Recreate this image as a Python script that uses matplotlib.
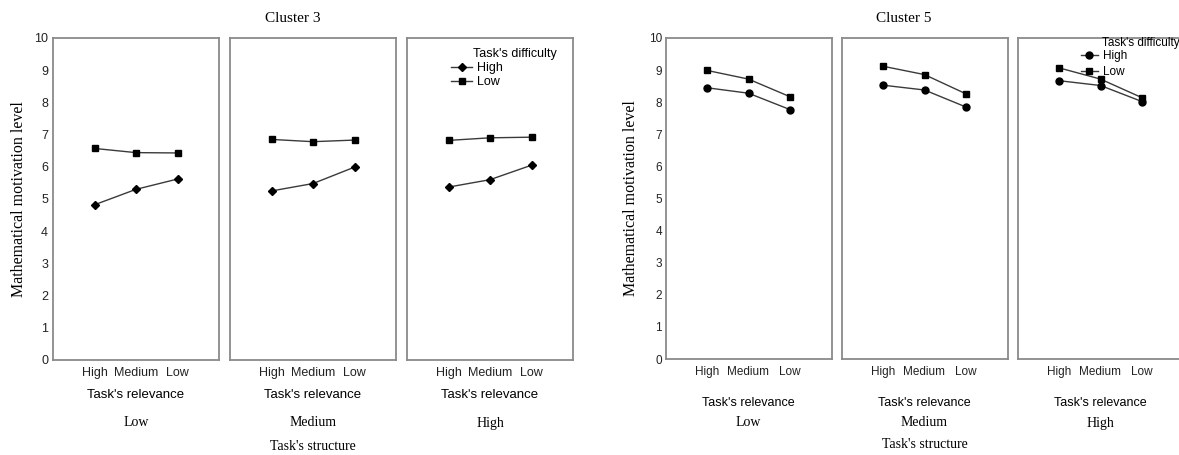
#!/usr/bin/env python3
"""
Interaction plots: motivation level by task relevance, difficulty and structure
Two clusters side by side (Cluster 3, Cluster 5)
"""

import matplotlib
matplotlib.use('Agg')
import matplotlib.pyplot as plt
from matplotlib.lines import Line2D

# --- data --------------------------------------------------------------------
relevance = ['High', 'Medium', 'Low']
structure = ['Low', 'Medium', 'High']
difficulty = ['High', 'Low']

# Cluster 3, one list per task's structure panel
c3_high_diff = [[4.82, 5.30, 5.62], [5.25, 5.48, 5.99], [5.37, 5.60, 6.05]]
c3_low_diff = [[6.57, 6.44, 6.43], [6.85, 6.78, 6.83], [6.82, 6.90, 6.92]]

# Cluster 5
c5_high_diff = [[8.45, 8.28, 7.77], [8.53, 8.38, 7.85], [8.67, 8.52, 8.02]]
c5_low_diff = [[8.99, 8.72, 8.17], [9.12, 8.86, 8.26], [9.07, 8.72, 8.14]]

W, H = 1179, 455
SERIF = 'Liberation Serif'
SANS = 'Liberation Sans'


def fx(px):
    return px / W


def fy(py):
    return 1 - py / H


def draw_cluster(fig, lefts, top, bottom, high_vals, low_vals, high_marker,
                 title, title_x, ylabel_x, style):
    """Draw one cluster: three panels sharing the y axis"""
    axes = []
    width = 166
    for i, left in enumerate(lefts):
        ax = fig.add_axes([fx(left), fy(bottom), width / W, (bottom - top) / H])
        x = range(len(relevance))
        ax.plot(x, high_vals[i], color='#3a3a3a', lw=1.0, marker=high_marker,
                ms=style['ms_high'], mfc='black', mec='black')
        ax.plot(x, low_vals[i], color='#3a3a3a', lw=1.0, marker='s',
                ms=style['ms_low'], mfc='black', mec='black')
        ax.set_xlim(-1, 3)
        ax.set_ylim(0, 10)
        ax.set_yticks(range(0, 11))
        ax.set_xticks(list(x))
        ax.set_xticklabels(relevance, family=SANS, fontsize=style['tick_fs'],
                           color='#222222')
        ax.tick_params(axis='x', length=0, pad=style['xpad'])
        ax.tick_params(axis='y', length=0, pad=style['ypad'])
        if i == 0:
            ax.set_yticklabels([str(v) for v in range(0, 11)], family=SANS,
                               fontsize=style['ytick_fs'], color='#222222')
        else:
            ax.set_yticklabels([])
        for sp in ax.spines.values():
            sp.set_color('#8a8a8a')
            sp.set_linewidth(1.3)

        cx = left + width / 2
        fig.text(fx(cx), fy(style['rel_y']), "Task's relevance", family=SANS,
                 fontsize=style['rel_fs'], ha='center', va='center')
        fig.text(fx(cx), fy(style['struct_y']), structure[i], family=SERIF,
                 fontsize=10, ha='center', va='center')
        axes.append(ax)

    mid = lefts[1] + width / 2
    fig.text(fx(mid), fy(style['structure_title_y']), "Task's structure",
             family=SERIF, fontsize=10, ha='center', va='center')
    fig.text(fx(title_x), fy(18), title, family=SERIF, fontsize=11,
             ha='center', va='center')
    fig.text(fx(ylabel_x), fy((top + bottom) / 2), 'Mathematical motivation level',
             family=SERIF, fontsize=11.5, rotation=90, ha='center', va='center')
    return axes


fig = plt.figure(figsize=(W / 100, H / 100), dpi=100)

style3 = dict(ms_high=4.5, ms_low=5, tick_fs=9, ytick_fs=9, xpad=5, ypad=3.6,
              rel_y=395, rel_fs=9.5, struct_y=423, structure_title_y=447)
axes3 = draw_cluster(fig, [53, 230, 407], 38, 360, c3_high_diff, c3_low_diff,
                     'D', 'Cluster 3', 293, 19, style3)

style5 = dict(ms_high=5, ms_low=5, tick_fs=8.5, ytick_fs=8.5, xpad=5, ypad=2.6,
              rel_y=403, rel_fs=9, struct_y=423, structure_title_y=445)
axes5 = draw_cluster(fig, [665.5, 841.5, 1017.5], 38, 359, c5_high_diff, c5_low_diff,
                     'o', 'Cluster 5', 904, 631, style5)

# legends
def add_legend(ax, marker, x_line, y_first, title_x, title_y, fs, hlen, hpad, lsp, ms):
    handles = [
        Line2D([], [], color='#3a3a3a', lw=1.0, marker=marker, ms=ms,
               mfc='black', mec='black'),
        Line2D([], [], color='#3a3a3a', lw=1.0, marker='s', ms=ms,
               mfc='black', mec='black'),
    ]
    ax.legend(handles, difficulty, loc='upper left',
              bbox_to_anchor=(fx(x_line), fy(y_first)),
              bbox_transform=fig.transFigure, frameon=False, borderpad=0,
              borderaxespad=0, handlelength=hlen, handletextpad=hpad,
              labelspacing=lsp, prop={'family': SANS, 'size': fs})
    fig.text(fx(title_x), fy(title_y), "Task's difficulty", family=SANS,
             fontsize=fs, ha='left', va='center')


add_legend(axes3[2], 'D', 451, 62, 473, 54, 9, 1.7, 0.35, 0.15, 4.5)
add_legend(axes5[2], 'o', 1081, 50, 1102, 43, 8.5, 1.4, 0.5, 0.35, 5)

fig.savefig('out.png', dpi=100)
